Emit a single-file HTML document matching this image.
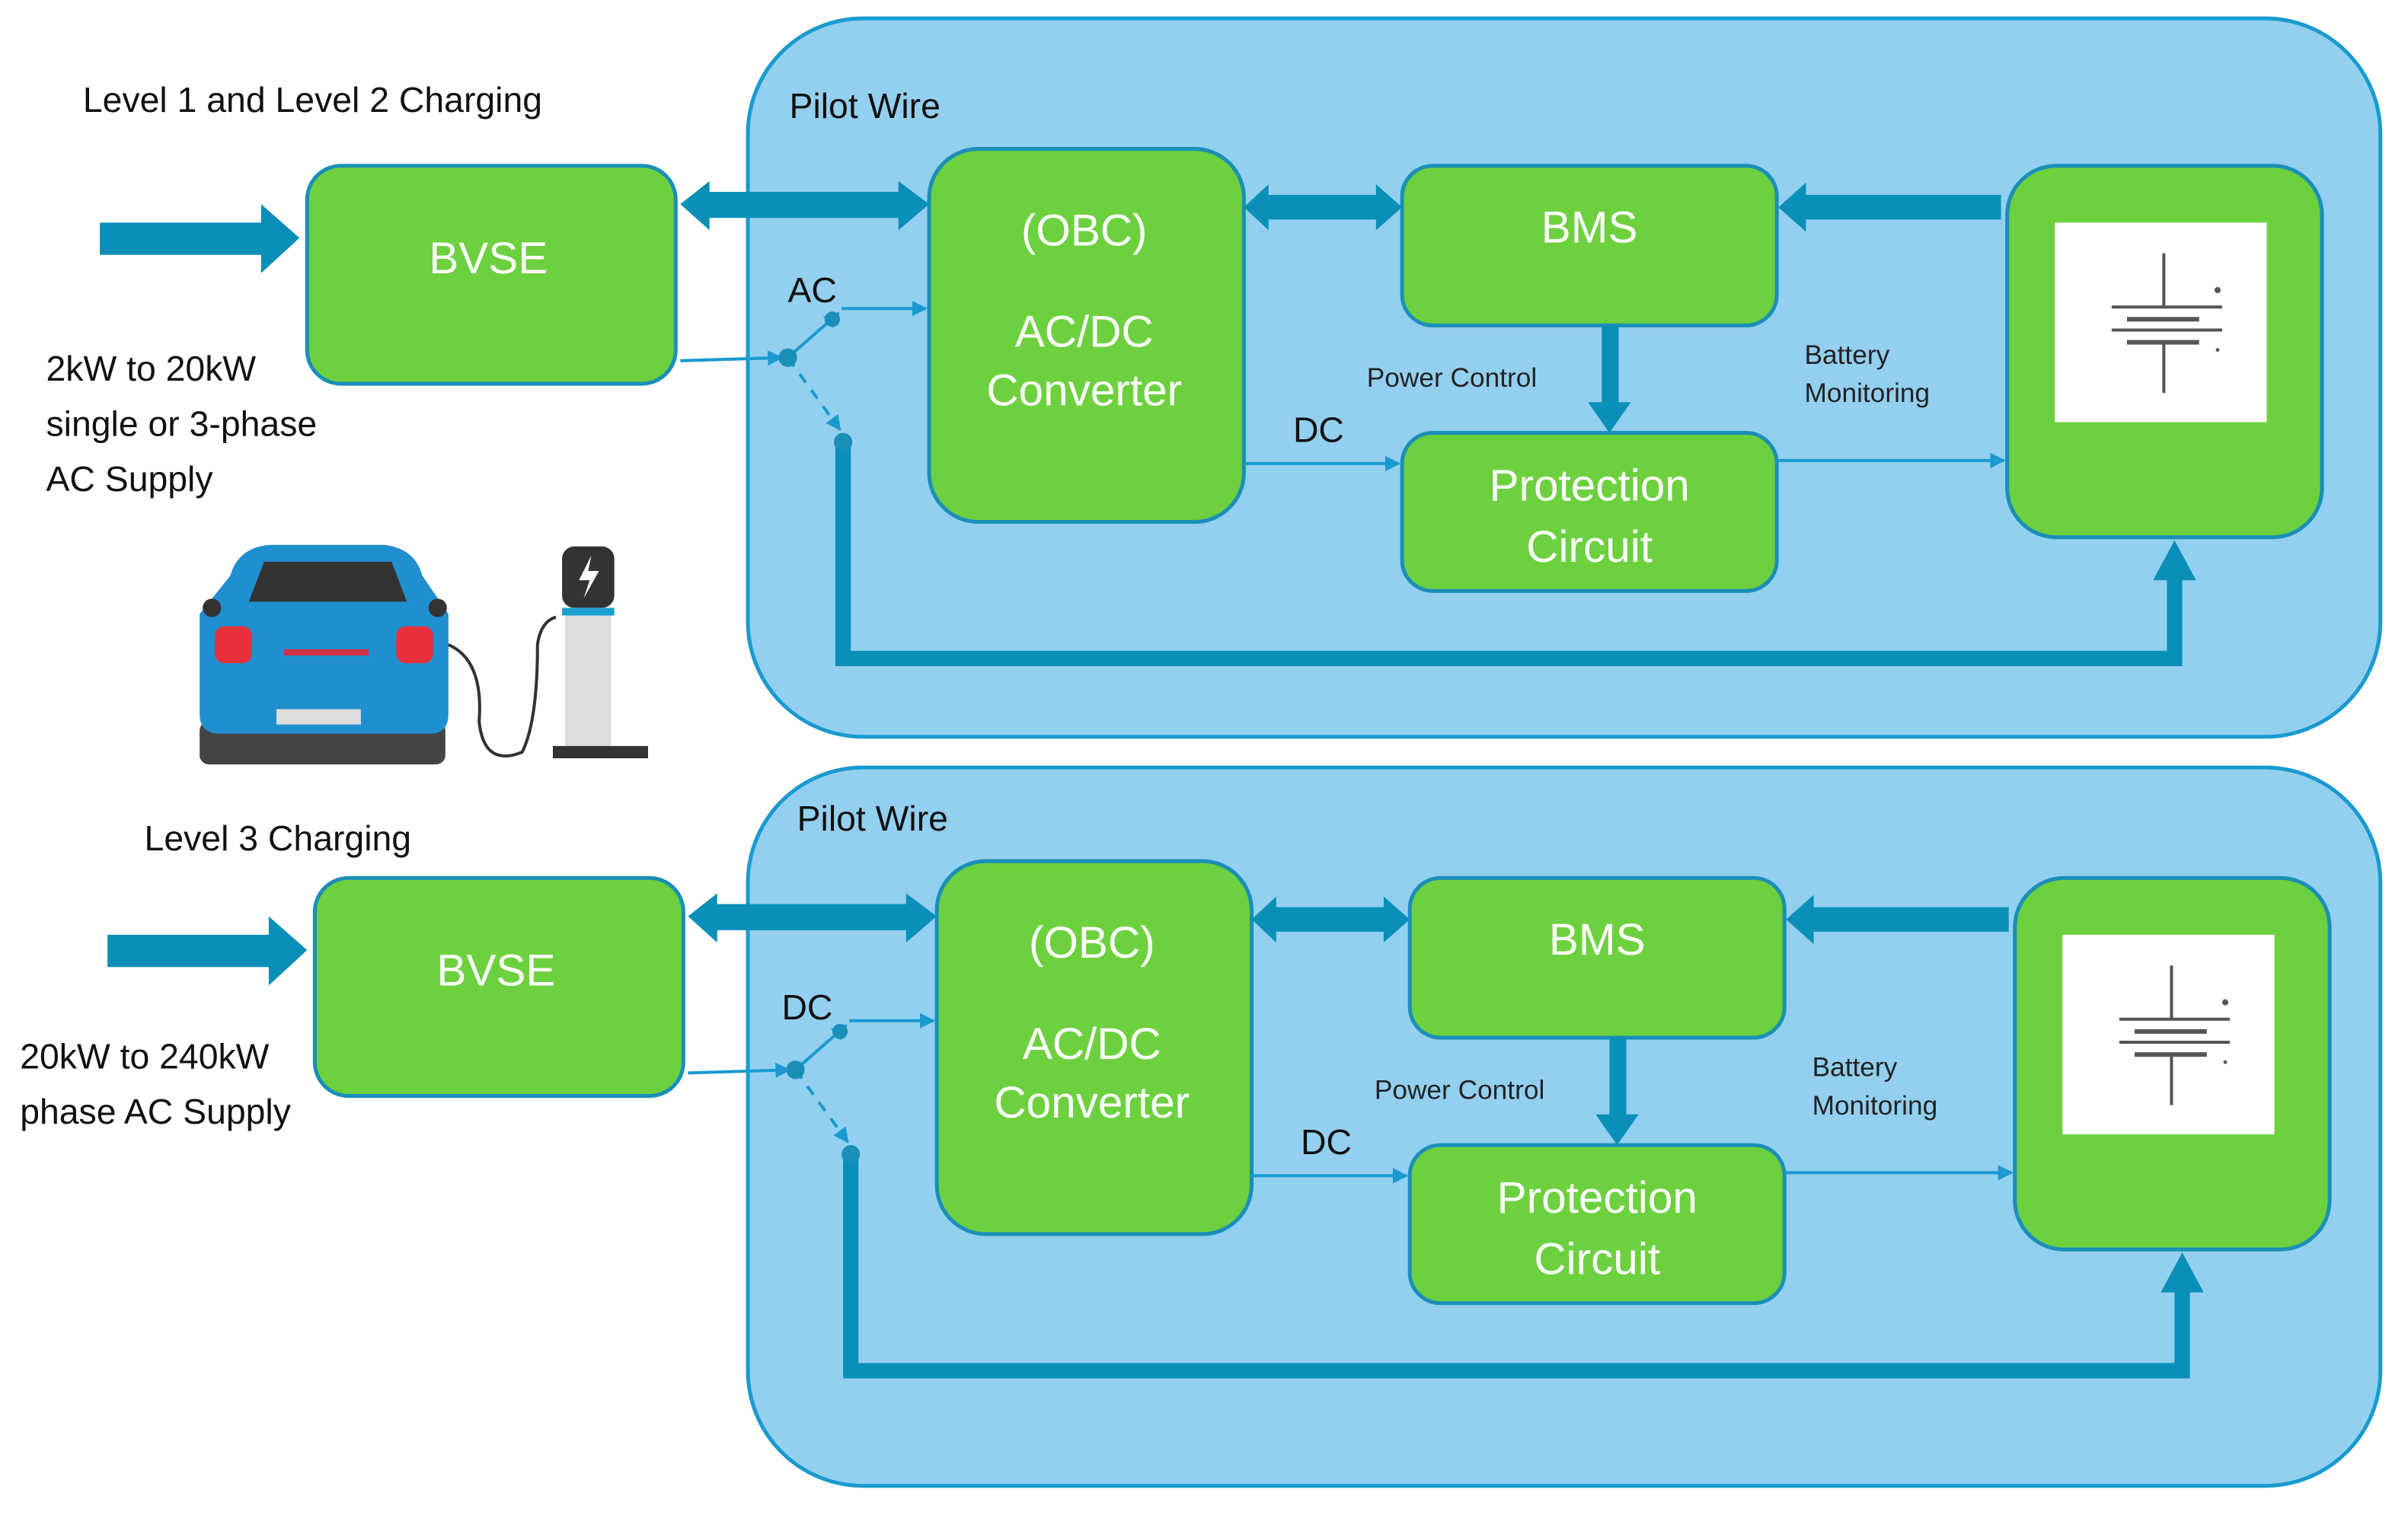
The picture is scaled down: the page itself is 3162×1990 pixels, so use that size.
<!DOCTYPE html>
<html><head><meta charset="utf-8"><style>
html,body{margin:0;padding:0;background:#fff}
svg{display:block}
text{font-family:"Liberation Sans",sans-serif}
.w{fill:#fff;font-size:29px;text-anchor:middle}
.k{fill:#111;font-size:23px}
.s{fill:#222;font-size:17.5px}
.box{fill:#6dd13f;stroke:#1a8fb8;stroke-width:2.5}
.pan{fill:#93d0f0;stroke:#1a9ad0;stroke-width:2.5}
.thin{stroke:#1a9ad0;stroke-width:2;fill:none}
.thk{fill:#0a8fb8}
</style></head><body>
<svg width="3162" height="1990" viewBox="0 0 1568 987" preserveAspectRatio="none" xmlns="http://www.w3.org/2000/svg">
<defs>
<marker id="ah" markerWidth="10" markerHeight="10" refX="9" refY="5" orient="auto" markerUnits="userSpaceOnUse"><path d="M0,0 L10,5 L0,10 Z" fill="#1a9ad0"/></marker>
</defs>

<rect class="pan" x="487" y="12" width="1063" height="468" rx="75"/>
<rect class="pan" x="487" y="500" width="1063" height="468" rx="75"/>

<g id="P">
<text class="k" x="514" y="77">Pilot Wire</text>
<rect class="box" x="200" y="108" width="240" height="142" rx="22"/>
<text class="w" x="318" y="178">BVSE</text>
<rect class="box" x="605" y="97" width="205" height="243" rx="32"/>
<text class="w" x="706" y="160">(OBC)</text>
<text class="w" x="706" y="226">AC/DC</text>
<text class="w" x="706" y="264">Converter</text>
<rect class="box" x="913" y="108" width="244" height="104" rx="20"/>
<text class="w" x="1035" y="158">BMS</text>
<rect class="box" x="913" y="282" width="244" height="103" rx="20"/>
<text class="w" x="1035" y="326">Protection</text>
<text class="w" x="1035" y="366">Circuit</text>
<rect class="box" x="1307" y="108" width="205" height="242" rx="32"/>
<rect x="1338" y="145" width="138" height="130" fill="#fff"/>
<g stroke="#555" stroke-width="2">
<line x1="1409" y1="165" x2="1409" y2="200"/>
<line x1="1375" y1="200" x2="1447" y2="200"/>
<line x1="1385" y1="208" x2="1432" y2="208" stroke-width="3"/>
<line x1="1375" y1="215" x2="1447" y2="215"/>
<line x1="1385" y1="223" x2="1432" y2="223" stroke-width="3"/>
<line x1="1409" y1="223" x2="1409" y2="256"/>
</g>
<circle cx="1444" cy="189" r="2" fill="#555"/><circle cx="1444" cy="228" r="1.2" fill="#555"/>
<path class="thk" d="M65,145 H170 V133 L195,155 L170,178 V166 H65 Z"/>
<path class="thk" d="M443,133 L462,118 V125 H585 V118 L605,133 L585,150 V142 H462 V150 Z"/>
<path class="thk" d="M810,135 L826,120 V127 H896 V120 L913,135 L896,150 V143 H826 V150 Z"/>
<path class="thk" d="M1158,135 L1176,119 V127 H1303 V143 H1176 V151 Z"/>
<path class="thk" d="M1043,212 H1054 V262 H1062 L1048,282 L1034,262 H1043 Z"/>
<path class="thk" d="M544,288 H554 V424 H1411 V378 H1402 L1416,352 L1430,378 H1421 V434 H544 Z"/>
<line class="thin" x1="443" y1="235" x2="509" y2="233" marker-end="url(#ah)"/>
<line class="thin" x1="513" y1="233" x2="546" y2="204" marker-end="url(#ah)"/>
<line class="thin" x1="548" y1="201" x2="603" y2="201" marker-end="url(#ah)"/>
<line class="thin" x1="513" y1="233" x2="547" y2="280" stroke-dasharray="7,6" marker-end="url(#ah)"/>
<circle cx="513" cy="233" r="6" fill="#1a8fb8"/>
<circle cx="542" cy="208" r="5" fill="#1a8fb8"/>
<circle cx="549" cy="288" r="6" fill="#1a8fb8"/>
<line class="thin" x1="810" y1="302" x2="911" y2="302" marker-end="url(#ah)"/>
<line class="thin" x1="1157" y1="300" x2="1305" y2="300" marker-end="url(#ah)"/>
<text class="s" x="890" y="252">Power Control</text>
<text class="s" x="1175" y="237">Battery</text>
<text class="s" x="1175" y="262">Monitoring</text>
<text class="k" x="842" y="288">DC</text>
</g>
<text class="k" x="513" y="197">AC</text>

<g transform="translate(5,464)">
<use href="#P"/>
</g>
<text class="k" x="509" y="664">DC</text>

<text class="k" x="54" y="73">Level 1 and Level 2 Charging</text>
<text class="k" x="30" y="248">2kW to 20kW</text>
<text class="k" x="30" y="284">single or 3-phase</text>
<text class="k" x="30" y="320">AC Supply</text>
<text class="k" x="94" y="554">Level 3 Charging</text>
<text class="k" x="13" y="696">20kW to 240kW</text>
<text class="k" x="13" y="732">phase AC Supply</text>

<g>
<rect x="130" y="470" width="160" height="28" rx="6" fill="#444"/>
<path d="M150,375 Q155,357 175,355 H250 Q270,357 275,375 L292,400 V465 Q292,478 280,478 H143 Q130,478 130,465 V400 Z" fill="#1f8fd0"/>
<path d="M162,392 L172,366 H255 L265,392 Z" fill="#333"/>
<rect x="140" y="408" width="24" height="24" rx="6" fill="#e8303a"/>
<rect x="258" y="408" width="24" height="24" rx="6" fill="#e8303a"/>
<rect x="185" y="423" width="55" height="4" fill="#d03040"/>
<rect x="180" y="462" width="55" height="10" fill="#ddd"/>
<circle cx="138" cy="396" r="6" fill="#333"/><circle cx="285" cy="396" r="6" fill="#333"/>
<path d="M292,420 Q315,430 312,470 Q315,500 340,490 Q350,470 350,420 Q352,405 362,402" stroke="#333" stroke-width="2" fill="none"/>
<rect x="366" y="356" width="34" height="40" rx="8" fill="#333"/>
<path d="M385,362 L377,378 H384 L380,390 L390,372 H383 Z" fill="#fff"/>
<rect x="368" y="396" width="30" height="90" fill="#ddd"/>
<rect x="366" y="396" width="34" height="5" fill="#1aa0d0"/>
<rect x="360" y="486" width="62" height="8" fill="#333"/>
</g>
</svg>
</body></html>
